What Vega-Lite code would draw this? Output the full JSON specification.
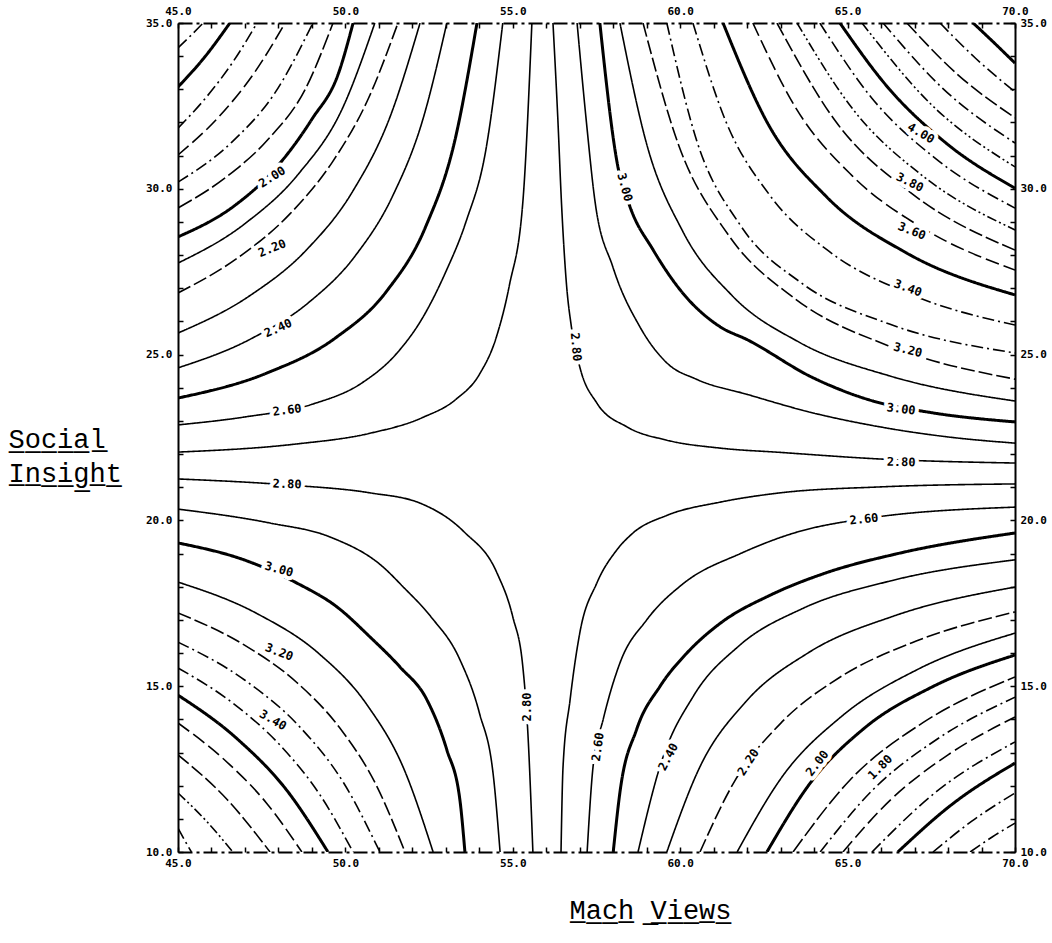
{
"$schema": "https://vega.github.io/schema/vega-lite/v6.json",
"width": 837, "height": 829,
"autosize": "none",
"padding": {"left": 178, "top": 23, "right": 37, "bottom": 91},
"background": "white",
"config": {"view": {"stroke": null}},
"datasets": {
"lines": [
{"g":"TL14","l":"1.4","x":45,"y":34.25},{"g":"TL14","l":"1.4","x":45.38,"y":34.62},{"g":"TL14","l":"1.4","x":45.75,"y":35},
{"g":"TL15","l":"1.5","x":45,"y":33.07},{"g":"TL15","l":"1.5","x":45.81,"y":33.99},{"g":"TL15","l":"1.5","x":46.55,"y":35},
{"g":"TL16","l":"1.6","x":45,"y":31.83},{"g":"TL16","l":"1.6","x":45.86,"y":32.78},{"g":"TL16","l":"1.6","x":46.65,"y":33.84},{"g":"TL16","l":"1.6","x":47.36,"y":35},
{"g":"TL17","l":"1.7","x":45,"y":31.02},{"g":"TL17","l":"1.7","x":46.22,"y":32.17},{"g":"TL17","l":"1.7","x":47.28,"y":33.5},{"g":"TL17","l":"1.7","x":48.2,"y":35},
{"g":"TL18","l":"1.8","x":45,"y":30.2},{"g":"TL18","l":"1.8","x":46.6,"y":31.4},{"g":"TL18","l":"1.8","x":47.9,"y":32.9},{"g":"TL18","l":"1.8","x":49.03,"y":35},
{"g":"TL19","l":"1.9","x":45,"y":29.42},{"g":"TL19","l":"1.9","x":46.5,"y":30.4},{"g":"TL19","l":"1.9","x":47.7,"y":31.5},{"g":"TL19","l":"1.9","x":48.8,"y":33.0},{"g":"TL19","l":"1.9","x":49.63,"y":35},
{"g":"TL20","l":"2.0","x":45,"y":28.55},{"g":"TL20","l":"2.0","x":46.7,"y":29.5},{"g":"TL20","l":"2.0","x":47.9,"y":30.6},{"g":"TL20","l":"2.0","x":49.0,"y":32.1},{"g":"TL20","l":"2.0","x":49.8,"y":33.5},{"g":"TL20","l":"2.0","x":50.23,"y":35},
{"g":"TL21","l":"2.1","x":45,"y":27.76},{"g":"TL21","l":"2.1","x":47.0,"y":28.95},{"g":"TL21","l":"2.1","x":48.6,"y":30.45},{"g":"TL21","l":"2.1","x":49.9,"y":32.4},{"g":"TL21","l":"2.1","x":50.88,"y":35},
{"g":"TL22","l":"2.2","x":45,"y":26.86},{"g":"TL22","l":"2.2","x":46.83,"y":27.95},{"g":"TL22","l":"2.2","x":48.35,"y":29.25},{"g":"TL22","l":"2.2","x":49.62,"y":30.82},{"g":"TL22","l":"2.2","x":50.69,"y":32.73},{"g":"TL22","l":"2.2","x":51.57,"y":35},
{"g":"TL23","l":"2.3","x":45,"y":25.65},{"g":"TL23","l":"2.3","x":47.12,"y":26.76},{"g":"TL23","l":"2.3","x":48.83,"y":28.15},{"g":"TL23","l":"2.3","x":50.21,"y":29.91},{"g":"TL23","l":"2.3","x":51.33,"y":32.16},{"g":"TL23","l":"2.3","x":52.23,"y":35},
{"g":"TL24","l":"2.4","x":45,"y":24.6},{"g":"TL24","l":"2.4","x":47.15,"y":25.46},{"g":"TL24","l":"2.4","x":48.89,"y":26.56},{"g":"TL24","l":"2.4","x":50.28,"y":27.96},{"g":"TL24","l":"2.4","x":51.4,"y":29.76},{"g":"TL24","l":"2.4","x":52.31,"y":32.08},{"g":"TL24","l":"2.4","x":53.03,"y":35},
{"g":"TL25","l":"2.5","x":45,"y":23.69},{"g":"TL25","l":"2.5","x":47.67,"y":24.45},{"g":"TL25","l":"2.5","x":49.7,"y":25.5},{"g":"TL25","l":"2.5","x":51.23,"y":26.91},{"g":"TL25","l":"2.5","x":52.39,"y":28.84},{"g":"TL25","l":"2.5","x":53.27,"y":31.46},{"g":"TL25","l":"2.5","x":53.93,"y":35},
{"g":"TL26","l":"2.6","x":45,"y":22.88},{"g":"TL26","l":"2.6","x":47,"y":23.12},{"g":"TL26","l":"2.6","x":49,"y":23.5},{"g":"TL26","l":"2.6","x":50.5,"y":24.15},{"g":"TL26","l":"2.6","x":51.5,"y":25.0},{"g":"TL26","l":"2.6","x":52.3,"y":26.1},{"g":"TL26","l":"2.6","x":53.0,"y":27.5},{"g":"TL26","l":"2.6","x":53.6,"y":29.0},{"g":"TL26","l":"2.6","x":54.2,"y":31.2},{"g":"TL26","l":"2.6","x":54.7,"y":35},
{"g":"TL27","l":"2.7","x":45,"y":22.06},{"g":"TL27","l":"2.7","x":48.5,"y":22.3},{"g":"TL27","l":"2.7","x":50.7,"y":22.62},{"g":"TL27","l":"2.7","x":52.3,"y":23.1},{"g":"TL27","l":"2.7","x":53.3,"y":23.65},{"g":"TL27","l":"2.7","x":54.0,"y":24.4},{"g":"TL27","l":"2.7","x":54.5,"y":25.5},{"g":"TL27","l":"2.7","x":54.9,"y":27.1},{"g":"TL27","l":"2.7","x":55.3,"y":29.6},{"g":"TL27","l":"2.7","x":55.57,"y":35},
{"g":"BL28","l":"2.8","x":45,"y":21.25},{"g":"BL28","l":"2.8","x":48.26,"y":21.07},{"g":"BL28","l":"2.8","x":50.74,"y":20.83},{"g":"BL28","l":"2.8","x":52.23,"y":20.52},{"g":"BL28","l":"2.8","x":53.55,"y":19.65},{"g":"BL28","l":"2.8","x":54.53,"y":18.41},{"g":"BL28","l":"2.8","x":55.0,"y":17.09},{"g":"BL28","l":"2.8","x":55.3,"y":15.58},{"g":"BL28","l":"2.8","x":55.45,"y":13.59},{"g":"BL28","l":"2.8","x":55.6,"y":10},
{"g":"BL29","l":"2.9","x":45,"y":20.34},{"g":"BL29","l":"2.9","x":47.75,"y":19.92},{"g":"BL29","l":"2.9","x":49.54,"y":19.5},{"g":"BL29","l":"2.9","x":51.12,"y":18.6},{"g":"BL29","l":"2.9","x":51.72,"y":18.0},{"g":"BL29","l":"2.9","x":52.55,"y":17.1},{"g":"BL29","l":"2.9","x":53.42,"y":15.8},{"g":"BL29","l":"2.9","x":54.0,"y":14.2},{"g":"BL29","l":"2.9","x":54.43,"y":12.2},{"g":"BL29","l":"2.9","x":54.62,"y":10},
{"g":"BL30","l":"3.0","x":45,"y":19.32},{"g":"BL30","l":"3.0","x":47,"y":18.8},{"g":"BL30","l":"3.0","x":48.55,"y":18.11},{"g":"BL30","l":"3.0","x":49.75,"y":17.39},{"g":"BL30","l":"3.0","x":50.74,"y":16.48},{"g":"BL30","l":"3.0","x":51.63,"y":15.58},{"g":"BL30","l":"3.0","x":52.44,"y":14.58},{"g":"BL30","l":"3.0","x":53.03,"y":13.08},{"g":"BL30","l":"3.0","x":53.42,"y":11.57},{"g":"BL30","l":"3.0","x":53.57,"y":10},
{"g":"BL31","l":"3.1","x":45,"y":18.14},{"g":"BL31","l":"3.1","x":47.36,"y":17.19},{"g":"BL31","l":"3.1","x":49.2,"y":15.99},{"g":"BL31","l":"3.1","x":50.63,"y":14.46},{"g":"BL31","l":"3.1","x":51.75,"y":12.5},{"g":"BL31","l":"3.1","x":52.62,"y":10},
{"g":"BL32","l":"3.2","x":45,"y":17.21},{"g":"BL32","l":"3.2","x":46.95,"y":16.26},{"g":"BL32","l":"3.2","x":48.54,"y":15.12},{"g":"BL32","l":"3.2","x":49.84,"y":13.73},{"g":"BL32","l":"3.2","x":50.91,"y":12.04},{"g":"BL32","l":"3.2","x":51.78,"y":10},
{"g":"BL33","l":"3.3","x":45,"y":16.33},{"g":"BL33","l":"3.3","x":47.0,"y":15.18},{"g":"BL33","l":"3.3","x":48.63,"y":13.78},{"g":"BL33","l":"3.3","x":49.95,"y":12.08},{"g":"BL33","l":"3.3","x":51.03,"y":10},
{"g":"BL34","l":"3.4","x":45,"y":15.55},{"g":"BL34","l":"3.4","x":46.65,"y":14.48},{"g":"BL34","l":"3.4","x":48.05,"y":13.22},{"g":"BL34","l":"3.4","x":49.23,"y":11.74},{"g":"BL34","l":"3.4","x":50.23,"y":10},
{"g":"BL35","l":"3.5","x":45,"y":14.73},{"g":"BL35","l":"3.5","x":46.77,"y":13.41},{"g":"BL35","l":"3.5","x":48.25,"y":11.86},{"g":"BL35","l":"3.5","x":49.48,"y":10},
{"g":"BL36","l":"3.6","x":45,"y":13.89},{"g":"BL36","l":"3.6","x":46.41,"y":12.76},{"g":"BL36","l":"3.6","x":47.64,"y":11.48},{"g":"BL36","l":"3.6","x":48.7,"y":10},
{"g":"BL37","l":"3.7","x":45,"y":12.93},{"g":"BL37","l":"3.7","x":46.48,"y":11.57},{"g":"BL37","l":"3.7","x":47.75,"y":10},
{"g":"BL38","l":"3.8","x":45,"y":11.78},{"g":"BL38","l":"3.8","x":45.85,"y":10.93},{"g":"BL38","l":"3.8","x":46.64,"y":10},
{"g":"BL39","l":"3.9","x":45,"y":10.72},{"g":"BL39","l":"3.9","x":45.2,"y":10.35},{"g":"BL39","l":"3.9","x":45.4,"y":10},
{"g":"TR28","l":"2.8","x":56.2,"y":35},{"g":"TR28","l":"2.8","x":56.35,"y":32},{"g":"TR28","l":"2.8","x":56.45,"y":29.66},{"g":"TR28","l":"2.8","x":56.6,"y":27.16},{"g":"TR28","l":"2.8","x":56.75,"y":25.84},{"g":"TR28","l":"2.8","x":57.0,"y":24.63},{"g":"TR28","l":"2.8","x":57.51,"y":23.54},{"g":"TR28","l":"2.8","x":58.41,"y":22.82},{"g":"TR28","l":"2.8","x":59.6,"y":22.42},{"g":"TR28","l":"2.8","x":61.19,"y":22.18},{"g":"TR28","l":"2.8","x":63,"y":22.05},{"g":"TR28","l":"2.8","x":66,"y":21.85},{"g":"TR28","l":"2.8","x":70,"y":21.73},
{"g":"TR29","l":"2.9","x":56.92,"y":35},{"g":"TR29","l":"2.9","x":57.2,"y":32},{"g":"TR29","l":"2.9","x":57.45,"y":29.66},{"g":"TR29","l":"2.9","x":57.99,"y":27.64},{"g":"TR29","l":"2.9","x":58.8,"y":25.83},{"g":"TR29","l":"2.9","x":59.6,"y":24.75},{"g":"TR29","l":"2.9","x":60.5,"y":24.25},{"g":"TR29","l":"2.9","x":62,"y":23.8},{"g":"TR29","l":"2.9","x":63.97,"y":23.24},{"g":"TR29","l":"2.9","x":65.97,"y":22.82},{"g":"TR29","l":"2.9","x":67.97,"y":22.52},{"g":"TR29","l":"2.9","x":70,"y":22.33},
{"g":"TR30","l":"3.0","x":57.6,"y":35},{"g":"TR30","l":"3.0","x":58.14,"y":30.66},{"g":"TR30","l":"3.0","x":58.5,"y":29.46},{"g":"TR30","l":"3.0","x":59.19,"y":28.16},{"g":"TR30","l":"3.0","x":60.0,"y":26.95},{"g":"TR30","l":"3.0","x":61.19,"y":25.84},{"g":"TR30","l":"3.0","x":62,"y":25.45},{"g":"TR30","l":"3.0","x":63.97,"y":24.3},{"g":"TR30","l":"3.0","x":65.76,"y":23.6},{"g":"TR30","l":"3.0","x":67.5,"y":23.25},{"g":"TR30","l":"3.0","x":70,"y":22.97},
{"g":"TR31","l":"3.1","x":58.2,"y":35},{"g":"TR31","l":"3.1","x":58.99,"y":31.38},{"g":"TR31","l":"3.1","x":60.08,"y":28.71},{"g":"TR31","l":"3.1","x":61.55,"y":26.78},{"g":"TR31","l":"3.1","x":63.56,"y":25.37},{"g":"TR31","l":"3.1","x":66.28,"y":24.35},{"g":"TR31","l":"3.1","x":70,"y":23.6},
{"g":"TR32","l":"3.2","x":58.89,"y":35},{"g":"TR32","l":"3.2","x":59.96,"y":31.3},{"g":"TR32","l":"3.2","x":61.43,"y":28.62},{"g":"TR32","l":"3.2","x":63.45,"y":26.67},{"g":"TR32","l":"3.2","x":66.21,"y":25.27},{"g":"TR32","l":"3.2","x":70,"y":24.26},
{"g":"TR33","l":"3.3","x":59.6,"y":35},{"g":"TR33","l":"3.3","x":60.5,"y":31.43},{"g":"TR33","l":"3.3","x":61.79,"y":28.91},{"g":"TR33","l":"3.3","x":63.62,"y":27.16},{"g":"TR33","l":"3.3","x":66.25,"y":25.92},{"g":"TR33","l":"3.3","x":70,"y":25.05},
{"g":"TR34","l":"3.4","x":60.38,"y":35},{"g":"TR34","l":"3.4","x":61.36,"y":32.04},{"g":"TR34","l":"3.4","x":62.68,"y":29.8},{"g":"TR34","l":"3.4","x":64.45,"y":28.11},{"g":"TR34","l":"3.4","x":66.82,"y":26.84},{"g":"TR34","l":"3.4","x":70,"y":25.89},
{"g":"TR35","l":"3.5","x":61.28,"y":35},{"g":"TR35","l":"3.5","x":62.6,"y":32.0},{"g":"TR35","l":"3.5","x":64.37,"y":29.76},{"g":"TR35","l":"3.5","x":66.77,"y":28.06},{"g":"TR35","l":"3.5","x":70,"y":26.8},
{"g":"TR36","l":"3.6","x":62.17,"y":35},{"g":"TR36","l":"3.6","x":63.47,"y":32.41},{"g":"TR36","l":"3.6","x":65.14,"y":30.39},{"g":"TR36","l":"3.6","x":67.27,"y":28.8},{"g":"TR36","l":"3.6","x":70,"y":27.55},
{"g":"TR37","l":"3.7","x":62.89,"y":35},{"g":"TR37","l":"3.7","x":64.63,"y":32.05},{"g":"TR37","l":"3.7","x":66.94,"y":29.84},{"g":"TR37","l":"3.7","x":70,"y":28.15},
{"g":"TR38","l":"3.8","x":63.49,"y":35},{"g":"TR38","l":"3.8","x":65.15,"y":32.41},{"g":"TR38","l":"3.8","x":67.28,"y":30.36},{"g":"TR38","l":"3.8","x":70,"y":28.76},
{"g":"TR39","l":"3.9","x":64.17,"y":35},{"g":"TR39","l":"3.9","x":65.72,"y":32.74},{"g":"TR39","l":"3.9","x":67.64,"y":30.9},{"g":"TR39","l":"3.9","x":70,"y":29.42},
{"g":"TR40","l":"4.0","x":64.77,"y":35},{"g":"TR40","l":"4.0","x":66.21,"y":33.05},{"g":"TR40","l":"4.0","x":67.94,"y":31.38},{"g":"TR40","l":"4.0","x":70,"y":30.02},
{"g":"TR41","l":"4.1","x":65.43,"y":35},{"g":"TR41","l":"4.1","x":67.46,"y":32.58},{"g":"TR41","l":"4.1","x":70,"y":30.66},
{"g":"TR42","l":"4.2","x":66.06,"y":35},{"g":"TR42","l":"4.2","x":67.84,"y":33.03},{"g":"TR42","l":"4.2","x":70,"y":31.38},
{"g":"TR43","l":"4.3","x":66.77,"y":35},{"g":"TR43","l":"4.3","x":68.26,"y":33.47},{"g":"TR43","l":"4.3","x":70,"y":32.14},
{"g":"TR44","l":"4.4","x":67.76,"y":35},{"g":"TR44","l":"4.4","x":68.83,"y":33.93},{"g":"TR44","l":"4.4","x":70,"y":32.92},
{"g":"TR45","l":"4.5","x":68.75,"y":35},{"g":"TR45","l":"4.5","x":69.38,"y":34.4},{"g":"TR45","l":"4.5","x":70,"y":33.79},
{"g":"BR27","l":"2.7","x":56.44,"y":10},{"g":"BR27","l":"2.7","x":56.5,"y":12.56},{"g":"BR27","l":"2.7","x":56.71,"y":14.58},{"g":"BR27","l":"2.7","x":57.0,"y":16.6},{"g":"BR27","l":"2.7","x":57.51,"y":18.11},{"g":"BR27","l":"2.7","x":58.1,"y":19.1},{"g":"BR27","l":"2.7","x":58.59,"y":19.62},{"g":"BR27","l":"2.7","x":59.6,"y":20.15},{"g":"BR27","l":"2.7","x":61.19,"y":20.55},{"g":"BR27","l":"2.7","x":62.98,"y":20.83},{"g":"BR27","l":"2.7","x":65.97,"y":21.01},{"g":"BR27","l":"2.7","x":70,"y":21.1},
{"g":"BR26","l":"2.6","x":57.22,"y":10},{"g":"BR26","l":"2.6","x":57.4,"y":12.6},{"g":"BR26","l":"2.6","x":57.7,"y":14.0},{"g":"BR26","l":"2.6","x":58.2,"y":15.7},{"g":"BR26","l":"2.6","x":59.0,"y":17.0},{"g":"BR26","l":"2.6","x":60.1,"y":18.1},{"g":"BR26","l":"2.6","x":61.8,"y":19.0},{"g":"BR26","l":"2.6","x":63.5,"y":19.65},{"g":"BR26","l":"2.6","x":65.5,"y":20.05},{"g":"BR26","l":"2.6","x":70,"y":20.4},
{"g":"BR25","l":"2.5","x":58.0,"y":10},{"g":"BR25","l":"2.5","x":58.2,"y":11.8},{"g":"BR25","l":"2.5","x":58.7,"y":13.7},{"g":"BR25","l":"2.5","x":59.4,"y":15.0},{"g":"BR25","l":"2.5","x":60.2,"y":16.0},{"g":"BR25","l":"2.5","x":61.2,"y":16.9},{"g":"BR25","l":"2.5","x":62.7,"y":17.75},{"g":"BR25","l":"2.5","x":64.3,"y":18.4},{"g":"BR25","l":"2.5","x":66.5,"y":19.0},{"g":"BR25","l":"2.5","x":70,"y":19.62},
{"g":"BR24","l":"2.4","x":58.74,"y":10},{"g":"BR24","l":"2.4","x":59.43,"y":12.69},{"g":"BR24","l":"2.4","x":60.4,"y":14.71},{"g":"BR24","l":"2.4","x":61.76,"y":16.22},{"g":"BR24","l":"2.4","x":63.65,"y":17.34},{"g":"BR24","l":"2.4","x":66.3,"y":18.18},{"g":"BR24","l":"2.4","x":70,"y":18.81},
{"g":"BR23","l":"2.3","x":59.6,"y":10},{"g":"BR23","l":"2.3","x":60.59,"y":12.57},{"g":"BR23","l":"2.3","x":61.95,"y":14.52},{"g":"BR23","l":"2.3","x":63.83,"y":16.01},{"g":"BR23","l":"2.3","x":66.42,"y":17.13},{"g":"BR23","l":"2.3","x":70,"y":17.99},
{"g":"BR22","l":"2.2","x":60.59,"y":10},{"g":"BR22","l":"2.2","x":61.64,"y":12.16},{"g":"BR22","l":"2.2","x":63.0,"y":13.88},{"g":"BR22","l":"2.2","x":64.77,"y":15.27},{"g":"BR22","l":"2.2","x":67.05,"y":16.36},{"g":"BR22","l":"2.2","x":70,"y":17.24},
{"g":"BR21","l":"2.1","x":61.7,"y":10},{"g":"BR21","l":"2.1","x":63.06,"y":12.29},{"g":"BR21","l":"2.1","x":64.82,"y":14.09},{"g":"BR21","l":"2.1","x":67.08,"y":15.5},{"g":"BR21","l":"2.1","x":70,"y":16.6},
{"g":"BR20","l":"2.0","x":62.59,"y":10},{"g":"BR20","l":"2.0","x":63.9,"y":12.1},{"g":"BR20","l":"2.0","x":65.52,"y":13.75},{"g":"BR20","l":"2.0","x":67.53,"y":14.98},{"g":"BR20","l":"2.0","x":70,"y":15.94},
{"g":"BR19","l":"1.9","x":63.37,"y":10},{"g":"BR19","l":"1.9","x":65.08,"y":12.18},{"g":"BR19","l":"1.9","x":67.25,"y":13.9},{"g":"BR19","l":"1.9","x":70,"y":15.28},
{"g":"BR18","l":"1.8","x":64.18,"y":10},{"g":"BR18","l":"1.8","x":65.75,"y":11.87},{"g":"BR18","l":"1.8","x":67.67,"y":13.4},{"g":"BR18","l":"1.8","x":70,"y":14.67},
{"g":"BR17","l":"1.7","x":64.86,"y":10},{"g":"BR17","l":"1.7","x":66.3,"y":11.59},{"g":"BR17","l":"1.7","x":68.0,"y":12.93},{"g":"BR17","l":"1.7","x":70,"y":14.07},
{"g":"BR16","l":"1.6","x":65.73,"y":10},{"g":"BR16","l":"1.6","x":67.65,"y":11.82},{"g":"BR16","l":"1.6","x":70,"y":13.32},
{"g":"BR15","l":"1.5","x":66.5,"y":10},{"g":"BR15","l":"1.5","x":68.11,"y":11.43},{"g":"BR15","l":"1.5","x":70,"y":12.68},
{"g":"BR14","l":"1.4","x":67.55,"y":10},{"g":"BR14","l":"1.4","x":68.71,"y":10.93},{"g":"BR14","l":"1.4","x":70,"y":11.78},
{"g":"BR13","l":"1.3","x":68.66,"y":10},{"g":"BR13","l":"1.3","x":69.33,"y":10.46},{"g":"BR13","l":"1.3","x":70,"y":10.87}
],
"labels": [
{"t":"2.00","x":47.81,"y":30.36,"a":-32},
{"t":"2.20","x":47.81,"y":28.21,"a":-22},
{"t":"2.40","x":47.99,"y":25.8,"a":-24},
{"t":"2.60","x":48.26,"y":23.33,"a":-7},
{"t":"2.80","x":48.26,"y":21.1,"a":2},
{"t":"3.00","x":48.02,"y":18.53,"a":15},
{"t":"3.20","x":48.02,"y":16.03,"a":21},
{"t":"3.40","x":47.84,"y":13.98,"a":30},
{"t":"2.80","x":55.42,"y":14.37,"a":-90},
{"t":"2.60","x":57.54,"y":13.17,"a":-82},
{"t":"2.40","x":59.64,"y":12.87,"a":-62},
{"t":"2.20","x":62.03,"y":12.71,"a":-57},
{"t":"2.00","x":64.09,"y":12.68,"a":-52},
{"t":"1.80","x":65.97,"y":12.56,"a":-45},
{"t":"2.60","x":65.49,"y":20.04,"a":-6},
{"t":"2.80","x":66.6,"y":21.76,"a":1},
{"t":"3.00","x":66.6,"y":23.36,"a":7},
{"t":"3.20","x":66.8,"y":25.14,"a":14},
{"t":"3.40","x":66.8,"y":27.01,"a":20},
{"t":"3.60","x":66.92,"y":28.73,"a":22},
{"t":"3.80","x":66.86,"y":30.2,"a":26},
{"t":"4.00","x":67.19,"y":31.68,"a":30},
{"t":"3.00","x":58.35,"y":30.05,"a":75},
{"t":"2.80","x":56.89,"y":25.23,"a":85}
]
},
"resolve": {"axis": {"x": "independent", "y": "independent"}},
"layer": [
{
"data": {"name": "lines"},
"mark": {"type": "line", "interpolate": "monotone", "color": "black", "clip": true},
"encoding": {
"x": {"field": "x", "type": "quantitative", "scale": {"domain": [45, 70], "nice": false, "zero": false},
 "axis": {"orient": "bottom", "values": [45,46,47,48,49,50,51,52,53,54,55,56,57,58,59,60,61,62,63,64,65,66,67,68,69,70], "labels": false, "tickSize": -5, "tickColor": "black", "tickWidth": 1.5, "domainColor": "black", "domainWidth": 2, "domainDash": [14,4,3,4], "grid": false,
 "title": "M\u0332a\u0332c\u0332h\u0332 \u0332V\u0332i\u0332e\u0332w\u0332s\u0332", "titleFont": "Liberation Mono", "titleFontSize": 27, "titleFontWeight": "normal", "titleColor": "black", "titleX": 472, "titleY": 66, "titleAlign": "center", "titleBaseline": "alphabetic", "titleAngle": 0}},
"y": {"field": "y", "type": "quantitative", "scale": {"domain": [10, 35], "nice": false, "zero": false},
 "axis": {"orient": "left", "values": [10,11,12,13,14,15,16,17,18,19,20,21,22,23,24,25,26,27,28,29,30,31,32,33,34,35], "labels": false, "tickSize": -5, "tickColor": "black", "tickWidth": 1.5, "domainColor": "black", "domainWidth": 2, "grid": false,
 "title": ["S\u0332o\u0332c\u0332i\u0332a\u0332l\u0332", "I\u0332n\u0332s\u0332i\u0332g\u0332h\u0332t\u0332"], "titleFont": "Liberation Mono", "titleFontSize": 27, "titleFontWeight": "normal", "titleColor": "black", "titleAngle": 0, "titleAlign": "left", "titleBaseline": "alphabetic", "titleX": -170, "titleY": 424, "titleLineHeight": 34}},
"detail": {"field": "g"},
"strokeWidth": {"field": "l", "type": "nominal", "legend": null, "scale": {"type": "ordinal",
 "domain": ["1.3","1.4","1.5","1.6","1.7","1.8","1.9","2.0","2.1","2.2","2.3","2.4","2.5","2.6","2.7","2.8","2.9","3.0","3.1","3.2","3.3","3.4","3.5","3.6","3.7","3.8","3.9","4.0","4.1","4.2","4.3","4.4","4.5"],
 "range": [1.6,1.6,3,1.6,1.6,1.6,1.6,3,1.6,1.6,1.6,1.6,3,1.6,1.6,1.6,1.6,3,1.6,1.6,1.6,1.6,3,1.6,1.6,1.6,1.6,3,1.6,1.6,1.6,1.6,3]}},
"strokeDash": {"field": "l", "type": "nominal", "legend": null, "scale": {"type": "ordinal",
 "domain": ["1.3","1.4","1.5","1.6","1.7","1.8","1.9","2.0","2.1","2.2","2.3","2.4","2.5","2.6","2.7","2.8","2.9","3.0","3.1","3.2","3.3","3.4","3.5","3.6","3.7","3.8","3.9","4.0","4.1","4.2","4.3","4.4","4.5"],
 "range": [[12,4,2,4],[12,4,2,4],[1,0],[12,4,2,4],[14,5],[12,4,2,4],[16,4],[1,0],[1,0],[14,4],[1,0],[1,0],[1,0],[1,0],[1,0],[1,0],[1,0],[1,0],[1,0],[14,4],[12,4,2,4],[12,4,2,4],[1,0],[14,5],[14,4],[10,3,2,3,2,3],[12,4,2,4],[1,0],[10,3,2,3,2,3],[12,4,2,4],[14,4],[12,4,2,4],[1,0]]}}
}
},
{
"data": {"name": "labels"},
"mark": {"type": "text", "font": "DejaVu Sans Mono", "fontWeight": "bold", "fontSize": 12, "fill": "white", "stroke": "white", "strokeWidth": 8, "strokeJoin": "round", "align": "center", "baseline": "middle"},
"encoding": {
"x": {"field": "x", "type": "quantitative", "axis": {"orient": "bottom", "values": [45,50,55,60,65,70], "format": ".1f", "ticks": false, "domain": false, "grid": false, "labelPadding": 5, "labelFont": "DejaVu Sans Mono", "labelFontWeight": "bold", "labelFontSize": 11, "labelColor": "black", "labelOverlap": false, "labelFlush": false, "title": null}},
"y": {"field": "y", "type": "quantitative", "axis": {"orient": "left", "values": [10,15,20,25,30,35], "format": ".1f", "ticks": false, "domain": false, "grid": false, "labelPadding": 6, "labelFont": "DejaVu Sans Mono", "labelFontWeight": "bold", "labelFontSize": 11, "labelColor": "black", "labelOverlap": false, "labelFlush": false, "title": null}},
"text": {"field": "t"},
"angle": {"field": "a", "type": "quantitative", "scale": null}
}
},
{
"data": {"name": "labels"},
"mark": {"type": "text", "font": "DejaVu Sans Mono", "fontWeight": "bold", "fontSize": 12, "fill": "black", "align": "center", "baseline": "middle"},
"encoding": {
"x": {"field": "x", "type": "quantitative", "axis": {"orient": "top", "values": [45,46,47,48,49,50,51,52,53,54,55,56,57,58,59,60,61,62,63,64,65,66,67,68,69,70], "labels": false, "tickSize": -5, "tickColor": "black", "tickWidth": 1.5, "domainColor": "black", "domainWidth": 2, "domainDash": [14,4,3,4], "grid": false, "title": null}},
"y": {"field": "y", "type": "quantitative", "axis": {"orient": "right", "values": [10,11,12,13,14,15,16,17,18,19,20,21,22,23,24,25,26,27,28,29,30,31,32,33,34,35], "labels": false, "tickSize": -5, "tickColor": "black", "tickWidth": 1.5, "domainColor": "black", "domainWidth": 2, "grid": false, "title": null}},
"text": {"field": "t"},
"angle": {"field": "a", "type": "quantitative", "scale": null}
}
},
{
"data": {"name": "labels"},
"mark": {"type": "text", "opacity": 0},
"encoding": {
"x": {"field": "x", "type": "quantitative", "axis": {"orient": "top", "values": [45,50,55,60,65,70], "format": ".1f", "ticks": false, "domain": false, "grid": false, "labelPadding": 7, "labelFont": "DejaVu Sans Mono", "labelFontWeight": "bold", "labelFontSize": 11, "labelColor": "black", "labelOverlap": false, "labelFlush": false, "title": null}},
"y": {"field": "y", "type": "quantitative", "axis": {"orient": "right", "values": [10,15,20,25,30,35], "format": ".1f", "ticks": false, "domain": false, "grid": false, "labelPadding": 5, "labelFont": "DejaVu Sans Mono", "labelFontWeight": "bold", "labelFontSize": 11, "labelColor": "black", "labelOverlap": false, "labelFlush": false, "title": null}},
"text": {"field": "t"}
}
}
]
}
